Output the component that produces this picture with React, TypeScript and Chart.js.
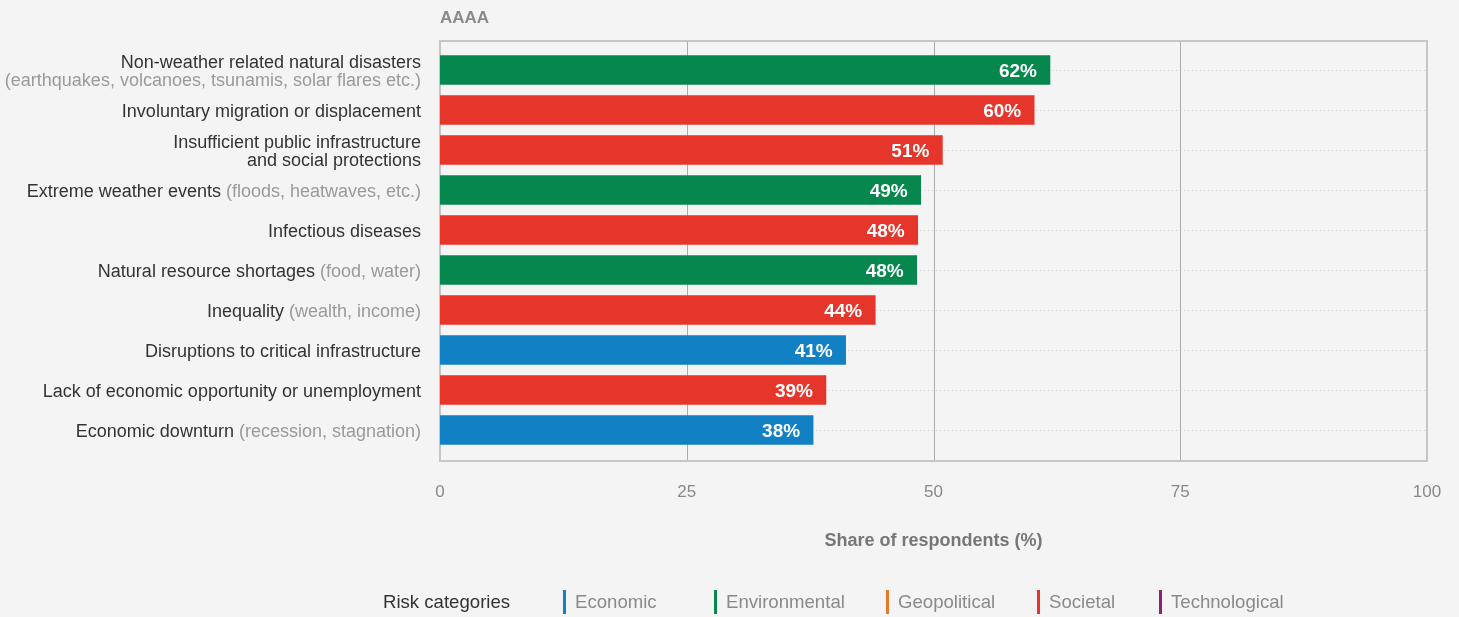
import React, { useEffect, useRef } from "react";
import { Chart, registerables } from "chart.js";

Chart.register(...registerables);

// ---------- data ----------
const chartTitle = "AAAA";
const axisTitle = "Share of respondents (%)";
// each label: list of lines, each line = [dark text, grey note]
const riskLabels: [string, string][][] = [
  [["Non-weather related natural disasters", ""], ["", "(earthquakes, volcanoes, tsunamis, solar flares etc.)"]],
  [["Involuntary migration or displacement", ""]],
  [["Insufficient public infrastructure", ""], ["and social protections", ""]],
  [["Extreme weather events ", "(floods, heatwaves, etc.)"]],
  [["Infectious diseases", ""]],
  [["Natural resource shortages ", "(food, water)"]],
  [["Inequality ", "(wealth, income)"]],
  [["Disruptions to critical infrastructure", ""]],
  [["Lack of economic opportunity or unemployment", ""]],
  [["Economic downturn ", "(recession, stagnation)"]],
];
const shareValues = [61.8, 60.2, 50.9, 48.7, 48.4, 48.3, 44.1, 41.1, 39.1, 37.8];
const valueLabels = ["62%", "60%", "51%", "49%", "48%", "48%", "44%", "41%", "39%", "38%"];
const riskCategory = [
  "Environmental", "Societal", "Societal", "Environmental", "Societal",
  "Environmental", "Societal", "Economic", "Societal", "Economic",
];
const xTicks = [0, 25, 50, 75, 100];
const legendTitle = "Risk categories";
const legendCategories = ["Economic", "Environmental", "Geopolitical", "Societal", "Technological"];

// ---------- styles ----------
const categoryColors: Record<string, string> = {
  Economic: "#1181c4",
  Environmental: "#06874e",
  Geopolitical: "#e8782a",
  Societal: "#e6352b",
  Technological: "#8e1f73",
};
const legendMarkerX = [563, 714, 886, 1037, 1159];
const FONT = "'Liberation Sans', Arial, sans-serif";

const W = 1459;
const H = 617;

const decorPlugin = {
  id: "decor",
  beforeDraw(chart: any) {
    const ctx = chart.ctx;
    ctx.save();
    ctx.fillStyle = "#f4f4f4";
    ctx.fillRect(0, 0, chart.width, chart.height);
    ctx.restore();
  },
  beforeDatasetsDraw(chart: any) {
    const ctx = chart.ctx;
    const { left, right, top, bottom } = chart.chartArea;
    const xs = chart.scales.x;
    const ys = chart.scales.y;
    const fTop = top - 10;
    const fBottom = bottom + 11;
    ctx.save();
    // dotted category lines
    ctx.strokeStyle = "#c9c9c9";
    ctx.lineWidth = 1;
    ctx.setLineDash([1, 3]);
    riskLabels.forEach((_, i) => {
      const y = Math.round(ys.getPixelForValue(i)) + 0.5;
      ctx.beginPath();
      ctx.moveTo(left, y);
      ctx.lineTo(right, y);
      ctx.stroke();
    });
    ctx.setLineDash([]);
    // vertical grid lines
    ctx.strokeStyle = "#ababab";
    xTicks.slice(1, -1).forEach((v) => {
      const x = Math.round(xs.getPixelForValue(v)) + 0.5;
      ctx.beginPath();
      ctx.moveTo(x, fTop);
      ctx.lineTo(x, fBottom);
      ctx.stroke();
    });
    // frame
    ctx.strokeStyle = "#c6c6c6";
    ctx.lineWidth = 2;
    ctx.strokeRect(left, fTop + 1, right - left, fBottom - fTop - 1);
    ctx.restore();
  },
  afterDatasetsDraw(chart: any) {
    const ctx = chart.ctx;
    const { left, right, bottom } = chart.chartArea;
    const xs = chart.scales.x;
    const ys = chart.scales.y;
    ctx.save();
    // value labels
    ctx.fillStyle = "#ffffff";
    ctx.font = `bold 19px ${FONT}`;
    ctx.textAlign = "right";
    ctx.textBaseline = "middle";
    shareValues.forEach((v, i) => {
      ctx.fillText(valueLabels[i], xs.getPixelForValue(v) - 13, ys.getPixelForValue(i) + 1.5);
    });
    // y labels
    ctx.font = `18px ${FONT}`;
    ctx.textAlign = "left";
    const labelRight = left - 19;
    riskLabels.forEach((lines, i) => {
      const cy = ys.getPixelForValue(i);
      const n = lines.length;
      lines.forEach((seg, j) => {
        const y = cy + (j - (n - 1) / 2) * 18 + 2;
        const w1 = ctx.measureText(seg[0]).width;
        const w2 = ctx.measureText(seg[1]).width;
        let x = labelRight - w1 - w2;
        ctx.fillStyle = "#333333";
        ctx.fillText(seg[0], x, y);
        x += w1;
        ctx.fillStyle = "#9a9a9a";
        ctx.fillText(seg[1], x, y);
      });
    });
    // x ticks
    ctx.fillStyle = "#888888";
    ctx.font = `17px ${FONT}`;
    ctx.textAlign = "center";
    xTicks.forEach((v) => {
      ctx.fillText(String(v), xs.getPixelForValue(v), bottom + 42);
    });
    // axis title
    ctx.fillStyle = "#777777";
    ctx.font = `bold 18px ${FONT}`;
    ctx.fillText(axisTitle, (left + right) / 2, bottom + 91);
    // chart title
    ctx.textAlign = "left";
    ctx.fillStyle = "#8a8a8a";
    ctx.font = `bold 17px ${FONT}`;
    ctx.fillText(chartTitle, left, 18);
    // legend
    const ly = 603;
    ctx.fillStyle = "#333333";
    ctx.font = `18.6px ${FONT}`;
    ctx.fillText(legendTitle, 383, ly);
    legendCategories.forEach((c, i) => {
      const mx = legendMarkerX[i];
      ctx.fillStyle = categoryColors[c];
      ctx.fillRect(mx, 590, 3, 24);
      ctx.fillStyle = "#8a8a8a";
      ctx.fillText(c, mx + 12, ly);
    });
    ctx.restore();
  },
};

export default function App() {
  const ref = useRef<HTMLCanvasElement | null>(null);
  useEffect(() => {
    if (!ref.current) return;
    const chart = new Chart(ref.current, {
      type: "bar",
      data: {
        labels: riskLabels.map((l) => l.map((s) => s[0] + s[1]).join(" ")),
        datasets: [
          {
            data: shareValues,
            backgroundColor: riskCategory.map((c) => categoryColors[c]),
            barThickness: 29,
            borderWidth: 0,
          },
        ],
      },
      options: {
        indexAxis: "y",
        responsive: false,
        animation: false,
        layout: { padding: { left: 440, right: W - 1427, top: 50, bottom: H - 450 } },
        scales: {
          x: { display: false, min: 0, max: 100 },
          y: { display: false },
        },
        plugins: {
          legend: { display: false },
          tooltip: { enabled: false },
          title: { display: false },
        },
      },
      plugins: [decorPlugin],
    });
    return () => chart.destroy();
  }, []);
  return (
    <div style={{ position: "fixed", left: 0, top: 0, width: W, height: H }}>
      <canvas ref={ref} width={W} height={H} style={{ display: "block", width: W, height: H }} />
    </div>
  );
}
